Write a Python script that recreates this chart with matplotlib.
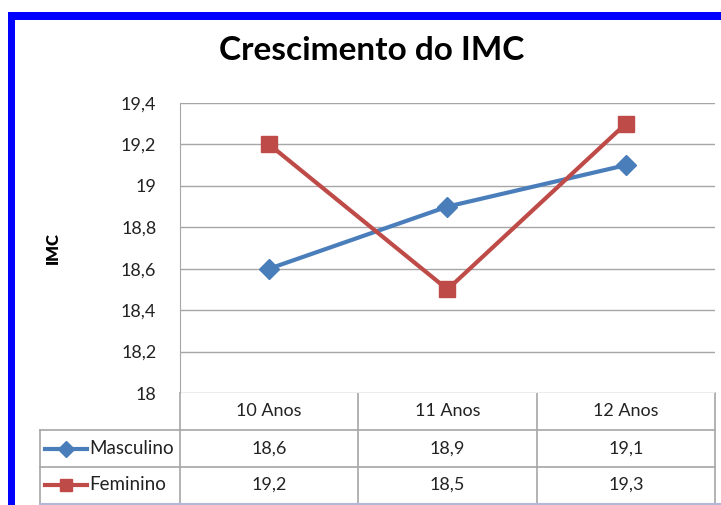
import matplotlib
matplotlib.use("Agg")
import matplotlib.pyplot as plt
from matplotlib.patches import Rectangle
from matplotlib.lines import Line2D
from matplotlib.ticker import FuncFormatter

plt.rcParams['font.family'] = ['Lato', 'DejaVu Sans']

# data
categories = ['10 Anos', '11 Anos', '12 Anos']
masculino = [18.6, 18.9, 19.1]
feminino = [19.2, 18.5, 19.3]
series_names = ['Masculino', 'Feminino']
yticks = [18.0, 18.2, 18.4, 18.6, 18.8, 19.0, 19.2, 19.4]

blue = '#4A7EBB'
red = '#BE4B48'
grid_c = '#A6A6A6'

W, H = 721, 505
fig = plt.figure(figsize=(W / 100, H / 100), dpi=100)

# plot area in pixel coords
px_l, px_r, px_t, px_b = 180, 715, 103, 393
ax = fig.add_axes([px_l / W, 1 - px_b / H, (px_r - px_l) / W, (px_b - px_t) / H])
x = range(len(categories))
ax.plot(x, masculino, color=blue, lw=3, marker='D', ms=10, zorder=3)
ax.plot(x, feminino, color=red, lw=3, marker='s', ms=11, zorder=3)
ax.set_xlim(-0.5, len(categories) - 0.5)
ax.set_ylim(18, 19.4)
ax.set_yticks(yticks)
ax.yaxis.set_major_formatter(FuncFormatter(lambda v, p: ('%.1f' % v).rstrip('0').rstrip('.').replace('.', ',')))
ax.grid(axis='y', color=grid_c, lw=1)
ax.set_xticks([])
for s in ['top', 'right', 'bottom']:
    ax.spines[s].set_visible(False)
ax.spines['left'].set_color(grid_c)
ax.tick_params(axis='y', length=0, pad=17, labelsize=13, colors='#222222')
ax.set_ylabel('IMC', fontsize=12, fontweight='heavy', labelpad=43)

# overlay for table, title and border
ov = fig.add_axes([0, 0, 1, 1], zorder=-1)
ov.set_xlim(0, W)
ov.set_ylim(H, 0)
ov.axis('off')

ov.text(372, 50, 'Crescimento do IMC', ha='center', va='center',
        fontsize=24, fontweight='bold')

col_edges = [px_l, 358, 537, px_r]
row_edges = [393, 430, 467, 503]
tab_l = 40
lk = dict(color=grid_c, lw=1.2)
# header row
ov.plot([px_l, px_l], [row_edges[0], row_edges[1]], **lk)
for ce in col_edges[1:]:
    ov.plot([ce, ce], [row_edges[0], row_edges[3]], **lk)
ov.plot([px_l, px_l], [row_edges[1], row_edges[3]], **lk)
ov.plot([tab_l, tab_l], [row_edges[1], row_edges[3]], **lk)
ov.plot([tab_l, px_r], [row_edges[1], row_edges[1]], **lk)
ov.plot([tab_l, px_r], [row_edges[2], row_edges[2]], **lk)
ov.plot([tab_l, W], [row_edges[3] + 1, row_edges[3] + 1], color='#B4B8D8', lw=1.5)

for i, c in enumerate(categories):
    cx = (col_edges[i] + col_edges[i + 1]) / 2
    ov.text(cx, (row_edges[0] + row_edges[1]) / 2, c, ha='center', va='center', fontsize=13, color='#222222')

rows = [masculino, feminino]
colors = [blue, red]
markers = ['D', 's']
for r, (vals, name, col, mk) in enumerate(zip(rows, series_names, colors, markers)):
    cy = (row_edges[r + 1] + row_edges[r + 2]) / 2
    ov.add_line(Line2D([45, 87], [cy, cy], color=col, lw=3))
    ov.plot([66], [cy], marker=mk, color=col, ms=8 if mk == 'D' else 9)
    ov.text(89, cy, name, ha='left', va='center', fontsize=13.5, color='#222222')
    for i, v in enumerate(vals):
        cx = (col_edges[i] + col_edges[i + 1]) / 2
        ov.text(cx, cy, ('%.1f' % v).replace('.', ','), ha='center', va='center', fontsize=13, color='#222222')

# blue frame
ov.add_patch(Rectangle((8, 12), W - 8, 8, color='#0000FF', lw=0))
ov.add_patch(Rectangle((8, 12), 7, H - 12, color='#0000FF', lw=0))

fig.savefig('out.png', dpi=100)
